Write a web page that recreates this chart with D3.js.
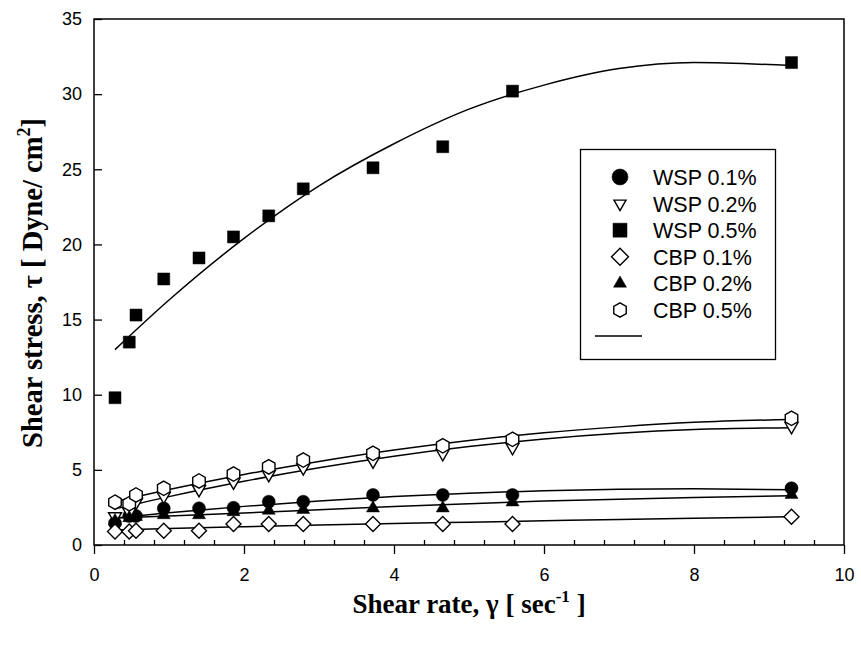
<!DOCTYPE html>
<html>
<head>
<meta charset="utf-8">
<script src="https://cdn.jsdelivr.net/npm/d3@7"></script>
<style>
  body { margin: 0; background: #fff; }
  text { fill: #000; }
</style>
</head>
<body>
<script>
// shear rate values (sec-1), same for every series
const shearRate = [0.28, 0.47, 0.56, 0.93, 1.40, 1.86, 2.33, 2.79, 3.72, 4.65, 5.58, 9.30];

// measured shear stress per series
const wsp01 = [1.45, 1.93, 1.93, 2.44, 2.44, 2.48, 2.88, 2.88, 3.33, 3.33, 3.33, 3.78];
const wsp02 = [1.9, 2.2, 2.85, 3.25, 3.7, 4.2, 4.7, 5.15, 5.6, 6.1, 6.5, 7.9];
const wsp05 = [9.8, 13.5, 15.3, 17.7, 19.1, 20.5, 21.9, 23.7, 25.1, 26.5, 30.2, 32.1];
const cbp01 = [0.9, 0.9, 0.95, 0.95, 0.95, 1.4, 1.4, 1.4, 1.4, 1.4, 1.4, 1.88];
const cbp02 = [1.6, 1.8, 1.88, 2.0, 2.0, 2.2, 2.3, 2.35, 2.45, 2.45, 2.85, 3.35];
const cbp05 = [2.85, 2.75, 3.33, 3.77, 4.26, 4.72, 5.2, 5.65, 6.1, 6.6, 7.03, 8.43];

// fitted curves
const fitX = [0.28, 1, 2, 3, 4, 5, 6, 7, 8, 9.3];
const fitWsp01 = [1.8, 2.15, 2.57, 2.93, 3.22, 3.45, 3.61, 3.71, 3.74, 3.68];
const fitWsp02 = [2.4, 3.22, 4.24, 5.14, 5.91, 6.55, 7.05, 7.43, 7.68, 7.8];
const fitWsp05 = [13.0, 16.3, 20.4, 23.9, 26.7, 29.0, 30.6, 31.7, 32.1, 31.9];
const fitCbp01 = [1.0, 1.1, 1.22, 1.33, 1.43, 1.52, 1.61, 1.7, 1.78, 1.88];
const fitCbp02 = [1.8, 1.93, 2.13, 2.35, 2.56, 2.75, 2.92, 3.05, 3.16, 3.28];
const fitCbp05 = [2.9, 3.69, 4.69, 5.56, 6.32, 6.96, 7.47, 7.86, 8.16, 8.35];

const seriesNames = ['WSP 0.1%', 'WSP 0.2%', 'WSP 0.5%', 'CBP 0.1%', 'CBP 0.2%', 'CBP 0.5%'];
const seriesShapes = ['circle', 'triDown', 'square', 'diamond', 'triUp', 'hexagon'];
const seriesValues = [wsp01, wsp02, wsp05, cbp01, cbp02, cbp05];
const seriesFits = [fitWsp01, fitWsp02, fitWsp05, fitCbp01, fitCbp02, fitCbp05];

const xTicks = [0, 2, 4, 6, 8, 10];
const yTicks = [0, 5, 10, 15, 20, 25, 30, 35];

const WIDTH = 861, HEIGHT = 648;
const LEFT = 94, RIGHT = 844, TOP = 19, BOTTOM = 545;

const x = d3.scaleLinear().domain([0, 10]).range([LEFT, RIGHT]);
const y = d3.scaleLinear().domain([0, 35]).range([BOTTOM, TOP]);

const svg = d3.select('body').append('svg')
  .attr('width', WIDTH)
  .attr('height', HEIGHT);

/**
 * path for one marker, centred on 0,0
 * @param shape name of the shape
 * @param s nominal width in px
 */
function markerPath(shape, s) {
  const r = s / 2;
  switch (shape) {
    case 'circle':
      return d3.symbol(d3.symbolCircle, Math.PI * r * r)();
    case 'square':
      return `M${-r},${-r}H${r}V${r}H${-r}Z`;
    case 'diamond':
      return `M0,${-r}L${r},0L0,${r}L${-r},0Z`;
    case 'triUp': {
      const h = s * Math.sqrt(3) / 2;
      return `M0,${-h * 2 / 3}L${r},${h / 3}L${-r},${h / 3}Z`;
    }
    case 'triDown': {
      const h = s * Math.sqrt(3) / 2;
      return `M0,${h * 2 / 3}L${r},${-h / 3}L${-r},${-h / 3}Z`;
    }
    case 'hexagon': {
      const R = r / Math.cos(Math.PI / 6);
      const pts = d3.range(6).map(i => {
        const a = Math.PI / 3 * i - Math.PI / 2;
        return [R * Math.cos(a), R * Math.sin(a)];
      });
      return 'M' + pts.map(p => p.join(',')).join('L') + 'Z';
    }
  }
}

const filled = { circle: true, square: true, triUp: true, triDown: false, diamond: false, hexagon: false };
const markerSize = { circle: 13, square: 12, triUp: 13, triDown: 13, diamond: 15, hexagon: 12.5 };
const legendSize = { circle: 16, square: 14, triUp: 13, triDown: 12, diamond: 17, hexagon: 12.5 };

// y axis, ticks pointing in
svg.append('g')
  .attr('transform', `translate(${LEFT},0)`)
  .call(d3.axisLeft(y).tickValues(yTicks).tickSize(-8).tickPadding(12))
  .call(g => g.select('.domain').remove())
  .call(g => g.selectAll('line').attr('stroke-width', 1.3))
  .call(g => g.selectAll('text')
    .attr('font-family', 'Liberation Sans, Arial, sans-serif')
    .attr('font-size', 18));

// x axis: major ticks out, minor ticks in
svg.append('g')
  .attr('transform', `translate(0,${BOTTOM})`)
  .call(d3.axisBottom(x).tickValues(xTicks).tickSize(9).tickPadding(14))
  .call(g => g.select('.domain').remove())
  .call(g => g.selectAll('line').attr('stroke-width', 1.3))
  .call(g => g.selectAll('text')
    .attr('font-family', 'Liberation Sans, Arial, sans-serif')
    .attr('font-size', 18));

const minorTicks = d3.range(1, 25).map(i => i * 0.4).filter(v => Math.abs(v / 2 - Math.round(v / 2)) > 1e-6);
svg.append('g')
  .attr('transform', `translate(0,${BOTTOM})`)
  .call(d3.axisBottom(x).tickValues(minorTicks).tickSize(-5).tickFormat(''))
  .call(g => g.select('.domain').remove())
  .call(g => g.selectAll('line').attr('stroke-width', 1.3));

// frame
svg.append('rect')
  .attr('x', LEFT)
  .attr('y', TOP)
  .attr('width', RIGHT - LEFT)
  .attr('height', BOTTOM - TOP)
  .attr('fill', 'none')
  .attr('stroke', '#000')
  .attr('stroke-width', 1.5);

// fitted lines
const line = d3.line()
  .x(d => x(d[0]))
  .y(d => y(d[1]))
  .curve(d3.curveMonotoneX);

svg.selectAll('path.fit')
  .data(seriesFits)
  .enter()
  .append('path')
  .attr('class', 'fit')
  .attr('d', f => line(fitX.map((v, i) => [v, f[i]])))
  .attr('fill', 'none')
  .attr('stroke', '#000')
  .attr('stroke-width', 1.5);

// markers
seriesValues.forEach((vals, si) => {
  const shape = seriesShapes[si];
  svg.append('g')
    .selectAll('path')
    .data(vals)
    .enter()
    .append('path')
    .attr('transform', (d, i) => `translate(${x(shearRate[i])},${y(d)})`)
    .attr('d', markerPath(shape, markerSize[shape]))
    .attr('fill', filled[shape] ? '#000' : '#fff')
    .attr('stroke', '#000')
    .attr('stroke-width', filled[shape] ? 0.5 : 1.4);
});

// legend
const legend = svg.append('g');
legend.append('rect')
  .attr('x', 580.5)
  .attr('y', 149.5)
  .attr('width', 195)
  .attr('height', 210)
  .attr('fill', '#fff')
  .attr('stroke', '#000')
  .attr('stroke-width', 1.3);

seriesNames.forEach((name, i) => {
  const cy = 177 + i * 26.6;
  const shape = seriesShapes[i];
  legend.append('path')
    .attr('transform', `translate(620,${cy})`)
    .attr('d', markerPath(shape, legendSize[shape]))
    .attr('fill', filled[shape] ? '#000' : '#fff')
    .attr('stroke', '#000')
    .attr('stroke-width', filled[shape] ? 0.5 : 1.4);
  legend.append('text')
    .attr('x', 653)
    .attr('y', cy + 8)
    .attr('font-family', 'Liberation Sans, Arial, sans-serif')
    .attr('font-size', 21.5)
    .text(name);
});
legend.append('line')
  .attr('x1', 595)
  .attr('x2', 642)
  .attr('y1', 336)
  .attr('y2', 336)
  .attr('stroke', '#000')
  .attr('stroke-width', 1.5);

// axis titles
const xTitle = svg.append('text')
  .attr('x', (LEFT + RIGHT) / 2)
  .attr('y', 613)
  .attr('text-anchor', 'middle')
  .attr('font-family', 'Liberation Serif, Times New Roman, serif')
  .attr('font-weight', 'bold')
  .attr('font-size', 27);
xTitle.append('tspan').text('Shear rate, γ [ sec');
xTitle.append('tspan').attr('font-size', 17).attr('dy', -11).text('-1');
xTitle.append('tspan').attr('dy', 11).text(' ]');

const yTitle = svg.append('text')
  .attr('transform', `translate(42,${(TOP + BOTTOM) / 2 + 1}) rotate(-90)`)
  .attr('text-anchor', 'middle')
  .attr('font-family', 'Liberation Serif, Times New Roman, serif')
  .attr('font-weight', 'bold')
  .attr('font-size', 28.5);
yTitle.append('tspan').text('Shear stress, τ [ Dyne/ cm');
yTitle.append('tspan').attr('font-size', 18).attr('dy', -12).text('2');
yTitle.append('tspan').attr('dy', 12).text(']');
</script>
</body>
</html>
